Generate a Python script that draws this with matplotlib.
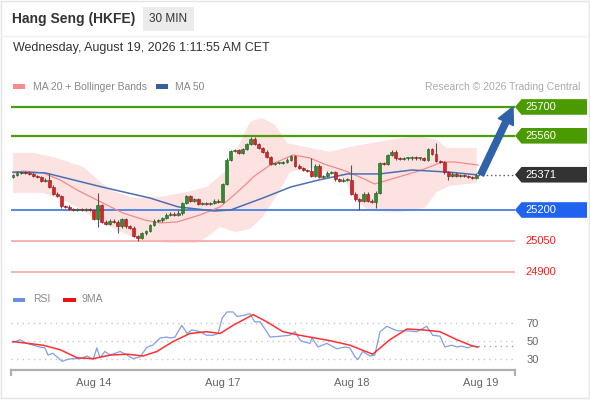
import matplotlib
matplotlib.use('Agg')
import matplotlib.pyplot as plt
from matplotlib.patches import Rectangle, Polygon
import numpy as np

plt.rcParams['font.family'] = ['Liberation Sans', 'DejaVu Sans']

# ---------------- data ----------------
closes = [25370, 25380, 25384, 25380, 25375, 25365, 25360, 25341, 25346, 25312,
          25278, 25268, 25219, 25215, 25205, 25200, 25205, 25200, 25205, 25200,
          25156, 25224, 25142, 25132, 25147, 25142, 25122, 25156, 25122, 25113,
          25074, 25064, 25088, 25098, 25127, 25147, 25151, 25161, 25176, 25181,
          25176, 25185, 25234, 25268, 25244, 25253, 25229, 25234, 25229, 25234,
          25244, 25239, 25326, 25443, 25486, 25491, 25477, 25496, 25520, 25545,
          25520, 25501, 25482, 25457, 25423, 25428, 25428, 25433, 25443, 25462,
          25414, 25404, 25394, 25389, 25365, 25414, 25360, 25365, 25380, 25384,
          25350, 25341, 25346, 25346, 25278, 25253, 25244, 25278, 25244, 25239,
          25283, 25428, 25423, 25467, 25482, 25452, 25448, 25452, 25452, 25457,
          25452, 25452, 25443, 25496, 25472, 25438, 25433, 25384, 25365, 25375,
          25365, 25370, 25365, 25360, 25355, 25371]
first_open = 25360
high_wicks = {9: 25380, 21: 25283, 41: 25200, 74: 25452, 84: 25418, 105: 25525}
low_wicks = {21: 25117, 26: 25088, 31: 25050, 86: 25200, 90: 25210, 108: 25346}

ma20_idx = [0, 2.5, 7.4, 11.7, 15.9, 22.3, 27.3, 32.8, 36.5, 40.7, 46.4, 51.4, 54.6,
            57.6, 59.6, 63.8, 69.5, 73.7, 77.9, 81.9, 86.1, 89.8, 94.8, 101.5,
            106.5, 109.7, 115.4]
ma20_val = [25380, 25389, 25380, 25346, 25297, 25234, 25185, 25151, 25137, 25142,
            25176, 25215, 25268, 25321, 25360, 25418, 25467, 25452, 25418, 25394,
            25360, 25326, 25355, 25394, 25433, 25433, 25418]

ma50_idx = [0, 8, 22, 34, 41, 50, 54, 62, 69, 76, 83, 91, 99, 108, 115]
ma50_val = [25384, 25380, 25312, 25258, 25215, 25195, 25200, 25258, 25312, 25346,
            25375, 25375, 25394, 25384, 25371]

bb_up_idx = [0, 5, 10, 17.4, 24.1, 29.8, 36.5, 43.2, 48.1, 53.1, 56.3, 58.8, 61.8,
             65, 68, 73.7, 78.7, 83.6, 90.3, 96.8, 101.7, 105.2, 107.7, 115.1]
bb_up_val = [25477, 25477, 25457, 25409, 25297, 25258, 25263, 25287, 25312, 25394,
             25525, 25627, 25647, 25613, 25525, 25501, 25482, 25506, 25530, 25550,
             25554, 25540, 25501, 25501]
bb_lo_idx = [0, 7.4, 13.4, 19.9, 25.8, 31.5, 39, 45.7, 48.9, 51.4, 55.1, 58.8, 62,
             66.3, 68.7, 73.7, 78.7, 82.4, 84.9, 88.6, 96, 102.2, 105.2, 108.4, 115.1]
bb_lo_val = [25283, 25283, 25239, 25166, 25103, 25054, 25040, 25040, 25079, 25118,
             25093, 25108, 25166, 25297, 25384, 25404, 25384, 25346, 25249, 25195,
             25190, 25210, 25287, 25317, 25331]

rsi_idx = [0, 1.7, 3.5, 5, 6.7, 7.9, 8.7, 9.9, 10.9, 12.2, 13.4, 14.6, 16.6, 18.4,
           19.9, 20.8, 21.6, 22.8, 24.1, 26.6, 28.3, 29.8, 31.5, 33.3, 34.7, 36.5,
           38.2, 39, 40.2, 41.9, 43.2, 44.4, 46.4, 48.1, 49.6, 50.9, 51.9, 53.1,
           54.6, 55.6, 57.1, 58.8, 60, 61.3, 63, 63.8, 66.3, 68.7, 70, 71.2, 72,
           73.7, 74.2, 75.7, 77.9, 80.4, 82.4, 83.6, 84.9, 85.6, 86.8, 88.6, 89.8,
           91.1, 92.8, 95.3, 97.8, 100.2, 102.7, 104.2, 106, 107.2, 108.9, 110.2,
           111.4, 112.9, 114.1, 115.4]
rsi_val = [48, 51, 47, 45, 43, 42, 34, 36, 32, 27, 29, 30, 30, 33, 29, 42, 31, 38,
           34, 38, 34, 30, 32, 43, 45, 53, 54, 53, 54, 67, 58, 62, 60, 56, 56, 58,
           75, 82, 82, 77, 78, 80, 71, 71, 60, 54, 55, 56, 60, 51, 49, 47, 53, 43,
           47, 41, 43, 42, 32, 29, 38, 33, 34, 60, 66, 61, 61, 60, 66, 56, 55, 43,
           45, 43, 44, 42, 44, 43]
rsi_ma_idx = [0, 7.4, 11.7, 15.9, 19.9, 24.1, 28.3, 32.3, 35.7, 39.7, 43.9, 48.1,
              51.4, 54.6, 59.6, 63, 67, 71.2, 73.7, 78.7, 83.6, 89.3, 93.5, 97.8,
              101.7, 106, 110.2, 114.1, 115.4]
rsi_ma_val = [49, 45, 40, 31, 30, 34, 35, 33, 38, 49, 58, 60, 58, 67, 79, 71, 60,
              56, 54, 50, 45, 35, 51, 63, 62, 60, 51, 44, 43]

resistances = [25700, 25560]
last_price = 25371
supports = [25200]
minor_levels = [25050, 24900]
target_price = 25700
date_tick_idx = [20, 52, 84, 116]
date_labels = ['Aug 14', 'Aug 17', 'Aug 18', 'Aug 19']
rsi_levels = [70, 50, 30]

# ---------------- layout ----------------
W, H = 590, 400
fig = plt.figure(figsize=(W / 100, H / 100), dpi=100)
fig.patch.set_facecolor('white')


def frac(x0, y0, x1, y1):
    return [x0 / W, 1 - y1 / H, (x1 - x0) / W, (y1 - y0) / H]


XLIM = (-0.5, 124.6)
ax = fig.add_axes(frac(11, 95, 515, 285))
ax.set_xlim(*XLIM)
ax.set_ylim(24836, 25758)
ax.axis('off')

axr = fig.add_axes(frac(11, 305, 515, 370))
axr.set_xlim(*XLIM)
axr.set_ylim(17.4, 89.7)

ov = fig.add_axes([0, 0, 1, 1])
ov.set_xlim(0, W)
ov.set_ylim(H, 0)
ov.axis('off')
ov.set_zorder(10)

# ---------------- main panel ----------------
# Bollinger band
ax.fill(np.r_[bb_up_idx, bb_lo_idx[::-1]], np.r_[bb_up_val, bb_lo_val[::-1]],
        color='#fde2e2', lw=0, zorder=1)

# levels
for lv in resistances:
    ax.axhline(lv, color='#4c9b0c', lw=1.6, zorder=2)
for lv in supports:
    ax.axhline(lv, color='#5585e6', lw=1.4, zorder=2)
for lv in minor_levels:
    ax.axhline(lv, color='#f7a6a6', lw=1.2, zorder=2)

# MAs
ax.plot(ma20_idx, ma20_val, color='#f48a8a', lw=0.9, zorder=3)
ax.plot(ma50_idx, ma50_val, color='#4a6fb3', lw=1.1, zorder=3)

# candles
opens = [first_open] + closes[:-1]
for i, (o, c) in enumerate(zip(opens, closes)):
    hi = high_wicks.get(i, max(o, c) + 7)
    lo = low_wicks.get(i, min(o, c) - 7)
    ax.vlines(i, lo, hi, color='#555555', lw=0.8, zorder=4)
    up = c >= o
    fc = '#2f8c2f' if up else '#dc2222'
    ec = '#1e5e1e' if up else '#8e1818'
    h = max(abs(c - o), 3)
    ax.add_patch(Rectangle((i - 0.36, min(o, c)), 0.72, h, facecolor=fc,
                           edgecolor=ec, lw=0.4, zorder=5))

# dotted line from last price
n = len(closes)
ax.plot([n - 0.5, XLIM[1]], [last_price, last_price], color='#555555',
        lw=1.0, ls=(0, (1, 2)), zorder=4)

# target arrow
ax.annotate('', xy=(124.1, target_price), xytext=(n + 0.1, last_price),
            arrowprops=dict(arrowstyle='simple,head_length=1.0,head_width=1.0,tail_width=0.38',
                            color='#2f62a8', mutation_scale=12, shrinkA=0, shrinkB=0),
            annotation_clip=False, zorder=6)


def ypx(p):
    return H - ax.transData.transform((0, p))[1]


def tag(p, color):
    y = ypx(p)
    ov.add_patch(Polygon([(515, y), (521.5, y - 7.8), (587, y - 7.8), (587, y + 7.8),
                          (521.5, y + 7.8)], closed=True, facecolor=color,
                         edgecolor='none'))
    ov.text(525, y + 0.5, f'{p}', color='white', fontsize=8, va='center', ha='left')


for lv in resistances:
    tag(lv, '#4a9a00')
tag(last_price, '#333333')
for lv in supports:
    tag(lv, '#1f63ef')
for lv in minor_levels:
    ov.text(525, ypx(lv) + 0.5, f'{lv}', color='#ff1a1a', fontsize=8,
            va='center', ha='left')

# ---------------- RSI panel ----------------
for s in ['top', 'right', 'left']:
    axr.spines[s].set_visible(False)
axr.spines['bottom'].set_color('#b0b0b0')
axr.spines['bottom'].set_linewidth(1.6)
for v in rsi_levels:
    axr.axhline(v, color='#c8c8c8', lw=1.0, ls=(0, (1, 3)), zorder=1)
axr.plot(rsi_idx, rsi_val, color='#7f9fe9', lw=0.9, zorder=3)
axr.plot(rsi_ma_idx, rsi_ma_val, color='#ff3030', lw=1.1, zorder=4)
axr.plot([rsi_idx[-1], XLIM[1]], [rsi_val[-1] + 1, rsi_val[-1] + 1], color='#7f9fe9',
         lw=1.0, ls=(0, (1, 3)), zorder=3)
axr.set_xticks(date_tick_idx)
axr.set_xticklabels(date_labels)
axr.tick_params(axis='x', length=0, pad=6, labelsize=8, labelcolor='#666666')
axr.yaxis.tick_right()
axr.set_yticks(rsi_levels)
axr.set_yticklabels([str(v) for v in rsi_levels])
axr.tick_params(axis='y', length=0, pad=8, labelsize=8, labelcolor='#666666')
for xe in (0, 1):
    axr.plot([xe, xe], [0, -0.08], transform=axr.transAxes, color='#b0b0b0',
             lw=1.6, clip_on=False)

# ---------------- header / legends ----------------
ov.add_patch(Rectangle((0.5, 0.5), W - 1.5, 397, facecolor='none',
                       edgecolor='#e4e4e4', lw=1))
ov.plot([1, W - 1], [36, 36], color='#f0f0f0', lw=1)
ov.text(12, 19, 'Hang Seng (HKFE)', fontsize=10, fontweight='bold', color='#333333',
        va='center', ha='left')
ov.add_patch(Rectangle((143, 7), 51, 24, facecolor='#ebebeb', edgecolor='none'))
ov.text(168.5, 19.5, '30 MIN', fontsize=8.5, color='#333333', va='center', ha='center')
ov.text(13, 48.5, 'Wednesday, August 19, 2026 1:11:55 AM CET', fontsize=9,
        color='#333333', va='center', ha='left')

ov.add_patch(Rectangle((13, 84), 12, 4.5, facecolor='#ff8a8a', edgecolor='none'))
ov.text(33, 86.5, 'MA 20 + Bollinger Bands', fontsize=7.5, color='#888888',
        va='center', ha='left')
ov.add_patch(Rectangle((156, 84), 12, 4.5, facecolor='#3a5fa0', edgecolor='none'))
ov.text(175, 86.5, 'MA 50', fontsize=7.5, color='#888888', va='center', ha='left')
ov.text(580, 86.5, 'Research \u00a9 2026 Trading Central', fontsize=7.5,
        color='#aaaaaa', va='center', ha='right')

ov.add_patch(Rectangle((13, 297.5), 12, 4, facecolor='#6b8fe0', edgecolor='none'))
ov.text(33, 299.5, 'RSI', fontsize=7.5, color='#888888', va='center', ha='left')
ov.add_patch(Rectangle((63, 297.5), 13, 4, facecolor='#ee1111', edgecolor='none'))
ov.text(82, 299.5, '9MA', fontsize=7.5, color='#888888', va='center', ha='left')

fig.savefig('out.png', dpi=100)
